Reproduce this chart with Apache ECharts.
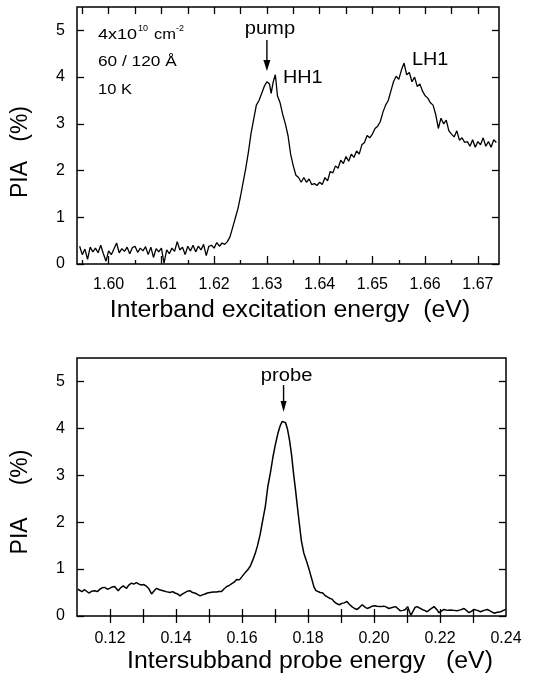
<!DOCTYPE html>
<html>
<head>
<meta charset="utf-8">
<script src="https://cdn.jsdelivr.net/npm/echarts@6/dist/echarts.min.js"></script>
<style>
  html, body { margin: 0; padding: 0; background: #fff; }
  #chart { width: 536px; height: 678px; }
</style>
</head>
<body>
<div id="chart"></div>
<script>
// top panel: PIA vs interband (pump) excitation energy
const pumpEnergy = [
  1.5945, 1.5950, 1.5955, 1.5960, 1.5965, 1.5970, 1.5975, 1.5980, 1.5985, 1.5990,
  1.5995, 1.6000, 1.6005, 1.6010, 1.6015, 1.6020, 1.6025, 1.6030, 1.6035, 1.6040,
  1.6045, 1.6050, 1.6055, 1.6060, 1.6065, 1.6070, 1.6075, 1.6080, 1.6085, 1.6090,
  1.6095, 1.6100, 1.6105, 1.6110, 1.6115, 1.6120, 1.6125, 1.6130, 1.6135, 1.6140,
  1.6145, 1.6150, 1.6155, 1.6160, 1.6165, 1.6170, 1.6175, 1.6180, 1.6185, 1.6190,
  1.6195, 1.6200, 1.6205, 1.6210, 1.6215, 1.6220, 1.6225, 1.6230, 1.6235, 1.6240,
  1.6245, 1.6250, 1.6255, 1.6260, 1.6265, 1.6270, 1.6275, 1.6280, 1.6285, 1.6290,
  1.6295, 1.6300, 1.6305, 1.6308, 1.6312, 1.6316, 1.6320, 1.6325, 1.6330, 1.6335,
  1.6340, 1.6345, 1.6350, 1.6355, 1.6360, 1.6365, 1.6370, 1.6375, 1.6380, 1.6385,
  1.6390, 1.6395, 1.6400, 1.6405, 1.6410, 1.6415, 1.6420, 1.6425, 1.6430, 1.6435,
  1.6440, 1.6445, 1.6450, 1.6455, 1.6460, 1.6465, 1.6470, 1.6475, 1.6480, 1.6485,
  1.6490, 1.6495, 1.6500, 1.6505, 1.6510, 1.6515, 1.6520, 1.6525, 1.6530, 1.6535,
  1.6540, 1.6545, 1.6550, 1.6555, 1.6560, 1.6565, 1.6570, 1.6575, 1.6580, 1.6585,
  1.6590, 1.6595, 1.6600, 1.6605, 1.6610, 1.6615, 1.6620, 1.6625, 1.6630, 1.6635,
  1.6640, 1.6645, 1.6650, 1.6655, 1.6660, 1.6665, 1.6670, 1.6675, 1.6680, 1.6685,
  1.6690, 1.6695, 1.6700, 1.6705, 1.6710, 1.6715, 1.6720, 1.6725, 1.6730, 1.6735
];
const pumpPIA = [
  0.38, 0.20, 0.32, 0.10, 0.36, 0.26, 0.34, 0.24, 0.40, 0.22,
  0.06, 0.28, 0.20, 0.32, 0.45, 0.24, 0.33, 0.27, 0.36, 0.22,
  0.35, 0.38, 0.25, 0.34, 0.28, 0.37, 0.20, 0.36, 0.14, 0.33,
  0.26, 0.34, 0.02, 0.30, 0.22, 0.34, 0.27, 0.48, 0.30, 0.36,
  0.20, 0.38, 0.28, 0.40, 0.26, 0.38, 0.30, 0.42, 0.18, 0.38,
  0.40, 0.34, 0.46, 0.38, 0.45, 0.42, 0.48, 0.58, 0.78, 0.98,
  1.18, 1.45, 1.75, 2.05, 2.40, 2.80, 3.10, 3.40, 3.50, 3.65,
  3.80, 3.90, 3.85, 3.65, 3.90, 4.05, 3.60, 3.45, 3.20, 3.00,
  2.75, 2.35, 2.10, 1.90, 1.85, 1.75, 1.85, 1.75, 1.82, 1.70,
  1.72, 1.68, 1.75, 1.70, 1.85, 1.78, 1.98, 1.95, 2.10, 2.05,
  2.22, 2.15, 2.30, 2.20, 2.35, 2.28, 2.42, 2.35, 2.55, 2.60,
  2.75, 2.70, 2.78, 2.90, 2.95, 3.05, 3.25, 3.40, 3.50, 3.70,
  3.90, 4.02, 3.95, 4.15, 4.30, 4.05, 4.10, 3.90, 4.00, 3.80,
  3.85, 3.70, 3.60, 3.55, 3.45, 3.40, 3.20, 2.90, 3.12, 3.00,
  3.08, 2.85, 2.78, 2.72, 2.85, 2.65, 2.70, 2.60, 2.62, 2.52,
  2.66, 2.50, 2.62, 2.55, 2.70, 2.52, 2.62, 2.50, 2.66, 2.60
];

// bottom panel: PIA vs intersubband probe energy
const probeEnergy = [
  0.1103, 0.1115, 0.1123, 0.1136, 0.1145, 0.1154, 0.1162, 0.1169, 0.1176, 0.1184,
  0.1192, 0.1199, 0.1207, 0.1214, 0.1225, 0.1232, 0.1240, 0.1250, 0.1257, 0.1265,
  0.1272, 0.1280, 0.1288, 0.1295, 0.1303, 0.1311, 0.1318, 0.1326, 0.1334, 0.1341,
  0.1350, 0.1361, 0.1370, 0.1382, 0.1390, 0.1397, 0.1405, 0.1412, 0.1420, 0.1427,
  0.1435, 0.1442, 0.1450, 0.1457, 0.1465, 0.1473, 0.1480, 0.1488, 0.1495, 0.1503,
  0.1513, 0.1523, 0.1530, 0.1538, 0.1546, 0.1554, 0.1561, 0.1569, 0.1576, 0.1584,
  0.1592, 0.1600, 0.1609, 0.1617, 0.1625, 0.1632, 0.1640, 0.1647, 0.1655, 0.1663,
  0.1671, 0.1678, 0.1686, 0.1694, 0.1701, 0.1709, 0.1716, 0.1722, 0.1727, 0.1732,
  0.1738, 0.1744, 0.1750, 0.1756, 0.1762, 0.1768, 0.1774, 0.1780, 0.1787, 0.1795,
  0.1803, 0.1811, 0.1818, 0.1824, 0.1830, 0.1837, 0.1845, 0.1851, 0.1857, 0.1865,
  0.1873, 0.1880, 0.1888, 0.1895, 0.1903, 0.1910, 0.1918, 0.1925, 0.1933, 0.1941,
  0.1949, 0.1957, 0.1964, 0.1971, 0.1979, 0.1987, 0.1994, 0.2002, 0.2009, 0.2020,
  0.2030, 0.2038, 0.2045, 0.2055, 0.2065, 0.2072, 0.2080, 0.2088, 0.2095, 0.2102,
  0.2108, 0.2112, 0.2118, 0.2124, 0.2131, 0.2138, 0.2146, 0.2153, 0.2161, 0.2170,
  0.2182, 0.2190, 0.2197, 0.2205, 0.2212, 0.2222, 0.2232, 0.2242, 0.2252, 0.2262,
  0.2273, 0.2280, 0.2288, 0.2295, 0.2303, 0.2313, 0.2323, 0.2333, 0.2344, 0.2354,
  0.2364, 0.2374, 0.2384, 0.2392, 0.2399
];
const probePIA = [
  0.57, 0.52, 0.56, 0.49, 0.53, 0.54, 0.52, 0.57, 0.60, 0.61,
  0.57, 0.59, 0.62, 0.63, 0.54, 0.60, 0.64, 0.59, 0.66, 0.70,
  0.68, 0.71, 0.68, 0.66, 0.67, 0.63, 0.58, 0.47, 0.54, 0.59,
  0.56, 0.54, 0.52, 0.50, 0.52, 0.49, 0.47, 0.43, 0.47, 0.50,
  0.53, 0.54, 0.50, 0.49, 0.46, 0.43, 0.45, 0.47, 0.49, 0.50,
  0.51, 0.51, 0.52, 0.52, 0.58, 0.63, 0.65, 0.69, 0.72, 0.78,
  0.77, 0.84, 0.92, 0.98, 1.06, 1.18, 1.33, 1.50, 1.74, 2.05,
  2.35, 2.75, 3.05, 3.40, 3.65, 3.90, 4.06, 4.15, 4.17, 4.12,
  3.98, 3.75, 3.45, 3.05, 2.70, 2.32, 1.95, 1.60, 1.35, 1.18,
  1.00, 0.80, 0.62, 0.54, 0.52, 0.50, 0.49, 0.44, 0.40, 0.38,
  0.36, 0.30, 0.26, 0.24, 0.27, 0.28, 0.31, 0.25, 0.20, 0.16,
  0.14, 0.19, 0.24, 0.20, 0.16, 0.18, 0.21, 0.22, 0.21, 0.20,
  0.21, 0.19, 0.16, 0.18, 0.20, 0.16, 0.11, 0.12, 0.14, 0.20,
  0.08, 0.02, 0.10, 0.18, 0.20, 0.17, 0.14, 0.12, 0.09, 0.14,
  0.20, 0.14, 0.07, 0.11, 0.14, 0.12, 0.13, 0.12, 0.11, 0.13,
  0.16, 0.12, 0.07, 0.10, 0.14, 0.12, 0.09, 0.12, 0.14, 0.10,
  0.06, 0.08, 0.09, 0.12, 0.14
];

// ticks and labels
const pumpLabels = [1.60, 1.61, 1.62, 1.63, 1.64, 1.65, 1.66, 1.67];
const pumpMinorTicks = [1.595, 1.605, 1.615, 1.625, 1.635, 1.645, 1.655, 1.665];
const pumpTopTicks = [1.595, 1.600, 1.605, 1.610, 1.615, 1.620, 1.625, 1.630,
  1.635, 1.640, 1.645, 1.650, 1.655, 1.660, 1.665, 1.670];
const probeLabels = [0.12, 0.14, 0.16, 0.18, 0.20, 0.22, 0.24];
const probeTicks = [0.12, 0.13, 0.14, 0.15, 0.16, 0.17, 0.18, 0.19, 0.20, 0.21, 0.22, 0.23];
const piaTicks = [0, 1, 2, 3, 4, 5];

const FONT = "'Liberation Sans', Arial, Helvetica, sans-serif";

function zip(xs, ys) {
  return xs.map((x, i) => [x, ys[i]]);
}

// x axis at the bottom (labels + major ticks)
function xBottom(grid, min, max, labels, ticks, len, margin) {
  return {
    type: 'value', gridIndex: grid, position: 'bottom', min: min, max: max,
    axisLine: { show: false },
    splitLine: { show: false },
    axisTick: { show: true, inside: true, length: len, customValues: ticks,
      lineStyle: { color: '#000', width: 1.3 } },
    axisLabel: { show: true, customValues: labels, margin: margin,
      color: '#000', fontSize: 16, fontFamily: FONT,
      formatter: v => v.toFixed(2) }
  };
}

// extra tick-only x axis (minor ticks / top edge)
function xTicks(grid, pos, min, max, ticks, len) {
  return {
    type: 'value', gridIndex: grid, position: pos, min: min, max: max,
    axisLine: { show: false },
    splitLine: { show: false },
    axisLabel: { show: false },
    axisTick: { show: true, inside: true, length: len, customValues: ticks,
      lineStyle: { color: '#000', width: 1.3 } }
  };
}

function yAxis(grid, pos, showLabel) {
  return {
    type: 'value', gridIndex: grid, position: pos, min: 0, max: 5.5,
    axisLine: { show: false },
    splitLine: { show: false },
    axisTick: { show: true, inside: true, length: 7, customValues: piaTicks,
      lineStyle: { color: '#000', width: 1.3 } },
    axisLabel: { show: showLabel, customValues: piaTicks, margin: 12,
      color: '#000', fontSize: 16, fontFamily: FONT }
  };
}

const chart = echarts.init(document.getElementById('chart'));

const option = {
  animation: false,
  backgroundColor: '#fff',
  grid: [
    { left: 77, right: 37, top: 7, bottom: 414, show: true,
      borderColor: '#000', borderWidth: 1.5, backgroundColor: 'transparent' },
    { left: 77, right: 30, top: 358, bottom: 62, show: true,
      borderColor: '#000', borderWidth: 1.5, backgroundColor: 'transparent' }
  ],
  xAxis: [
    xBottom(0, 1.594, 1.674, pumpLabels, pumpLabels, 8, 13),
    xTicks(0, 'bottom', 1.594, 1.674, pumpMinorTicks, 4),
    xTicks(0, 'top', 1.594, 1.674, pumpTopTicks, 7),
    xBottom(1, 0.11, 0.24, probeLabels, probeTicks, 7, 15),
    xTicks(1, 'top', 0.11, 0.24, probeTicks, 7)
  ],
  yAxis: [
    yAxis(0, 'left', true),
    yAxis(0, 'right', false),
    yAxis(1, 'left', true),
    yAxis(1, 'right', false)
  ],
  series: [
    { type: 'line', xAxisIndex: 0, yAxisIndex: 0, data: zip(pumpEnergy, pumpPIA),
      showSymbol: false, lineStyle: { color: '#000', width: 1.3 } },
    { type: 'line', xAxisIndex: 3, yAxisIndex: 2, data: zip(probeEnergy, probePIA),
      showSymbol: false, lineStyle: { color: '#000', width: 1.5 } }
  ]
};
chart.setOption(option);

// annotations (arrows placed at pump / probe energies)
const pumpX = chart.convertToPixel({ xAxisIndex: 0 }, 1.63);
const probeX = chart.convertToPixel({ xAxisIndex: 3 }, 0.1726);

function txt(x, y, s, size, align, sx) {
  return { type: 'text', x: x, y: y, scaleX: sx || 1, silent: true,
    style: { text: s, fill: '#000', font: size + 'px ' + FONT,
      textAlign: align || 'left', textVerticalAlign: 'middle' } };
}
function arrow(x, y0, y1, hw) {
  return [
    { type: 'line', silent: true, shape: { x1: x, y1: y0, x2: x, y2: y1 - 8 },
      style: { stroke: '#000', lineWidth: 1.4 } },
    { type: 'polygon', silent: true,
      shape: { points: [[x - hw, y1 - 11], [x + hw, y1 - 11], [x, y1]] },
      style: { fill: '#000' } }
  ];
}

chart.setOption({
  graphic: [
    txt(98, 35, '4x10', 15, 'left', 1.2),
    txt(138, 29, '10', 9),
    txt(154, 35, 'cm', 15, 'left', 1.1),
    txt(176, 29, '-2', 9),
    txt(98, 62, '60 / 120 Å', 15, 'left', 1.15),
    txt(98, 90, '10 K', 15, 'left', 1.1),
    txt(pumpX + 3, 29, 'pump', 18, 'center', 1.12),
    ...arrow(pumpX, 40, 71, 3.5),
    txt(283, 78, 'HH1', 18, 'left', 1.1),
    txt(412, 60, 'LH1', 18, 'left', 1.1),
    txt(probeX + 3, 376, 'probe', 18, 'center', 1.12),
    ...arrow(probeX, 385, 412, 3),
    txt(290, 311, 'Interband excitation energy  (eV)', 23, 'center', 1.08),
    txt(310, 662, 'Intersubband probe energy   (eV)', 23, 'center', 1.08),
    { type: 'text', x: 21, y: 152, rotation: Math.PI / 2, silent: true,
      style: { text: 'PIA   (%)', fill: '#000', font: '23px ' + FONT,
        textAlign: 'center', textVerticalAlign: 'middle' } },
    { type: 'text', x: 21, y: 502, rotation: Math.PI / 2, silent: true,
      style: { text: 'PIA     (%)', fill: '#000', font: '23px ' + FONT,
        textAlign: 'center', textVerticalAlign: 'middle' } }
  ]
});
</script>
</body>
</html>
